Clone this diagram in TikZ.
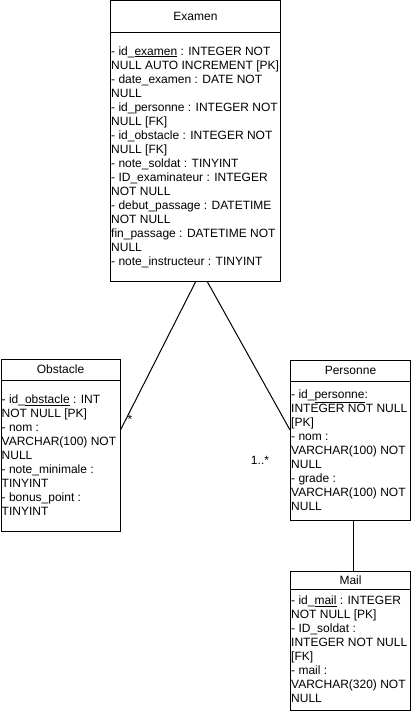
\documentclass[tikz,border=0pt]{standalone}
\usepackage{fontspec}
\setmainfont{Liberation Sans}
\usetikzlibrary{positioning, calc}

\begin{document}
\begin{tikzpicture}[
  x=1pt, y=-1pt,
  table/.style={draw, line width=1pt, anchor=north west, inner sep=0pt},
  title/.style={inner sep=0pt, font=\fontsize{12}{14}\selectfont},
  attrs/.style={anchor=west, align=left, inner sep=0pt, font=\fontsize{12}{14}\selectfont},
  link/.style={line width=1pt},
  mult/.style={inner sep=0pt, font=\fontsize{12}{14}\selectfont}
]
  \useasboundingbox (0,0) rectangle (411,711);

  % Examen
  \node[table, minimum width=170pt, minimum height=280.5pt] (examen) at (110,0.5) {};
  \node[title] (examen-t) at ($(examen.north)+(0,16)$) {Examen};
  \draw[line width=1pt] ($(examen.north west)+(0,32.5)$) -- ($(examen.north east)+(0,32.5)$);
  \node[attrs] (examen-a) at ($(examen.north west)+(1,156.5)$) {%
    - id\_\underline{examen} : INTEGER NOT\\
    NULL AUTO INCREMENT [PK]\\
    - date\_examen : DATE NOT\\
    NULL\\
    - id\_personne : INTEGER NOT\\
    NULL [FK]\\
    - id\_obstacle : INTEGER NOT\\
    NULL [FK]\\
    - note\_soldat : TINYINT\\
    - ID\_examinateur : INTEGER\\
    NOT NULL\\
    - debut\_passage : DATETIME\\
    NOT NULL\\
    fin\_passage : DATETIME NOT\\
    NULL\\
    - note\_instructeur : TINYINT};

  % Obstacle
  \node[table, minimum width=119pt, minimum height=172pt] (obstacle) at (0.5,359) {};
  \node[title] (obstacle-t) at ($(obstacle.north)+(0,10.5)$) {Obstacle};
  \draw[line width=1pt] ($(obstacle.north west)+(0,21)$) -- ($(obstacle.north east)+(0,21)$);
  \node[attrs] (obstacle-a) at ($(obstacle.north west)+(1,96.5)$) {%
    - id\_\underline{obstacle} : INT\\
    NOT NULL [PK]\\
    - nom :\\
    VARCHAR(100) NOT\\
    NULL\\
    - note\_minimale :\\
    TINYINT\\
    - bonus\_point :\\
    TINYINT};

  % Personne
  \node[table, minimum width=120pt, minimum height=160pt] (personne) at (290,360) {};
  \node[title] (personne-t) at ($(personne.north)+(0,10.5)$) {Personne};
  \draw[line width=1pt] ($(personne.north west)+(0,21)$) -- ($(personne.north east)+(0,21)$);
  \node[attrs] (personne-a) at ($(personne.north west)+(1,90.5)$) {%
    - id\_\underline{personne}:\\
    INTEGER NOT NULL\\
    {[PK]}\\
    - nom :\\
    VARCHAR(100) NOT\\
    NULL\\
    - grade :\\
    VARCHAR(100) NOT\\
    NULL};

  % Mail
  \node[table, minimum width=120pt, minimum height=139pt] (mail) at (290,571) {};
  \node[title] (mail-t) at ($(mail.north)+(0,9)$) {Mail};
  \draw[line width=1pt] ($(mail.north west)+(0,18)$) -- ($(mail.north east)+(0,18)$);
  \node[attrs] (mail-a) at ($(mail.north west)+(1,78.5)$) {%
    - id\_\underline{mail} : INTEGER\\
    NOT NULL [PK]\\
    - ID\_soldat :\\
    INTEGER NOT NULL\\
    {[FK]}\\
    - mail :\\
    VARCHAR(320) NOT\\
    NULL};

  % liens
  \coordinate (obs-end) at ($(obstacle.north east)+(0,71)$);
  \coordinate (pers-end) at ($(personne.north west)+(0,70)$);
  \draw[link] (examen.south) -- (obs-end);
  \draw[link] ($(examen.south)+(12,0)$) -- (pers-end);
  \draw[link] ($(personne.south)+(3,0)$) -- ($(mail.north)+(3,0)$);

  \node[mult] (obs-mult) at (130,419) {*};
  \node[mult] (pers-mult) at (260,460) {1..*};
\end{tikzpicture}
\end{document}
